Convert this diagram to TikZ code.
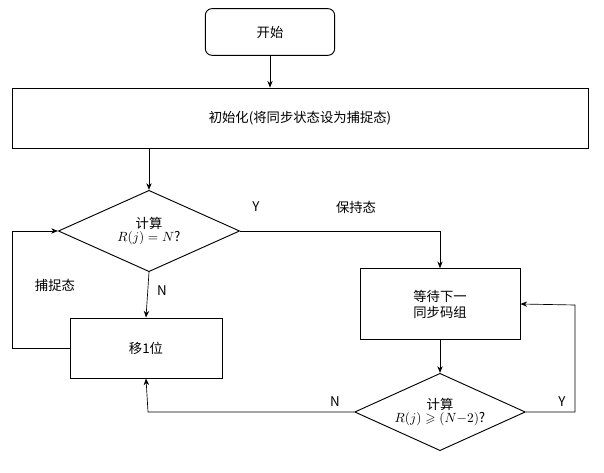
\documentclass[tikz,border=0pt]{standalone}
\usepackage{amssymb}
\usepackage{fontspec}
\newfontfamily\cjk{Noto Sans CJK SC}
\usetikzlibrary{shapes.geometric,arrows.meta}
\begin{document}
\begin{tikzpicture}[x=0.75pt,y=-0.75pt,font=\cjk\normalsize,
  box/.style={draw,line width=0.7pt,inner sep=0},
  arr/.style={-{Stealth[length=5pt,width=4pt]},line width=0.5pt},
  lbl/.style={inner sep=1pt}]
\useasboundingbox (0,0) rectangle (604,473);
\node[box,rounded corners=5pt,minimum width=97pt,minimum height=35pt] (s) at (270,32) {开始};
\node[box,minimum width=432pt,minimum height=45pt] (i) at (300,118) {初始化(将同步状态设为捕捉态)};
\node[draw,line width=0.7pt,diamond,minimum width=136pt,minimum height=61pt,inner sep=0] (d1) at (149,231) {};
\node[align=center] (t1) at (149,231) {计算\\[-2pt]$R(j)=N$?};
\node[box,minimum width=120pt,minimum height=53pt,align=center] (w) at (440,304) {等待下一\\同步码组};
\node[box,minimum width=114pt,minimum height=45pt] (m) at (146,348) {移1位};
\node[draw,line width=0.7pt,diamond,minimum width=128pt,minimum height=58pt,inner sep=0] (d2) at (440,412) {};
\node[align=center] (t2) at (440,412) {计算\\[-2pt]$R(j)\geqslant(N{-}2)$?};
\coordinate (c1) at (440,231);
\coordinate (c2) at (12,348);
\coordinate (c3) at (12,231);
\coordinate (c4) at (148,412);
\coordinate (c5) at (575,412);
\coordinate (c6) at (575,305);
\draw[arr] (s.south) -- (s.south |- i.north);
\draw[arr] (i.south -| d1) -- (d1.north);
\draw[arr] (d1.east) -- (c1) -- (w.north);
\draw[arr] (d1.south) -- (m.north);
\draw[arr] (m.west) -- (c2) -- (c3) -- (d1.west);
\draw[arr] (w.south) -- (d2.north);
\draw[arr] (d2.west) -- (c4) -- (m.south);
\draw[arr] (d2.east) -- (c5) -- (c6) -- (w.east);
\node[lbl] at (256,207) {Y};
\node[lbl] at (356,207) {保持态};
\node[lbl] at (162,291) {N};
\node[lbl] at (55,285) {捕捉态};
\node[lbl] at (335,402) {N};
\node[lbl] at (562,402) {Y};
\end{tikzpicture}
\end{document}
